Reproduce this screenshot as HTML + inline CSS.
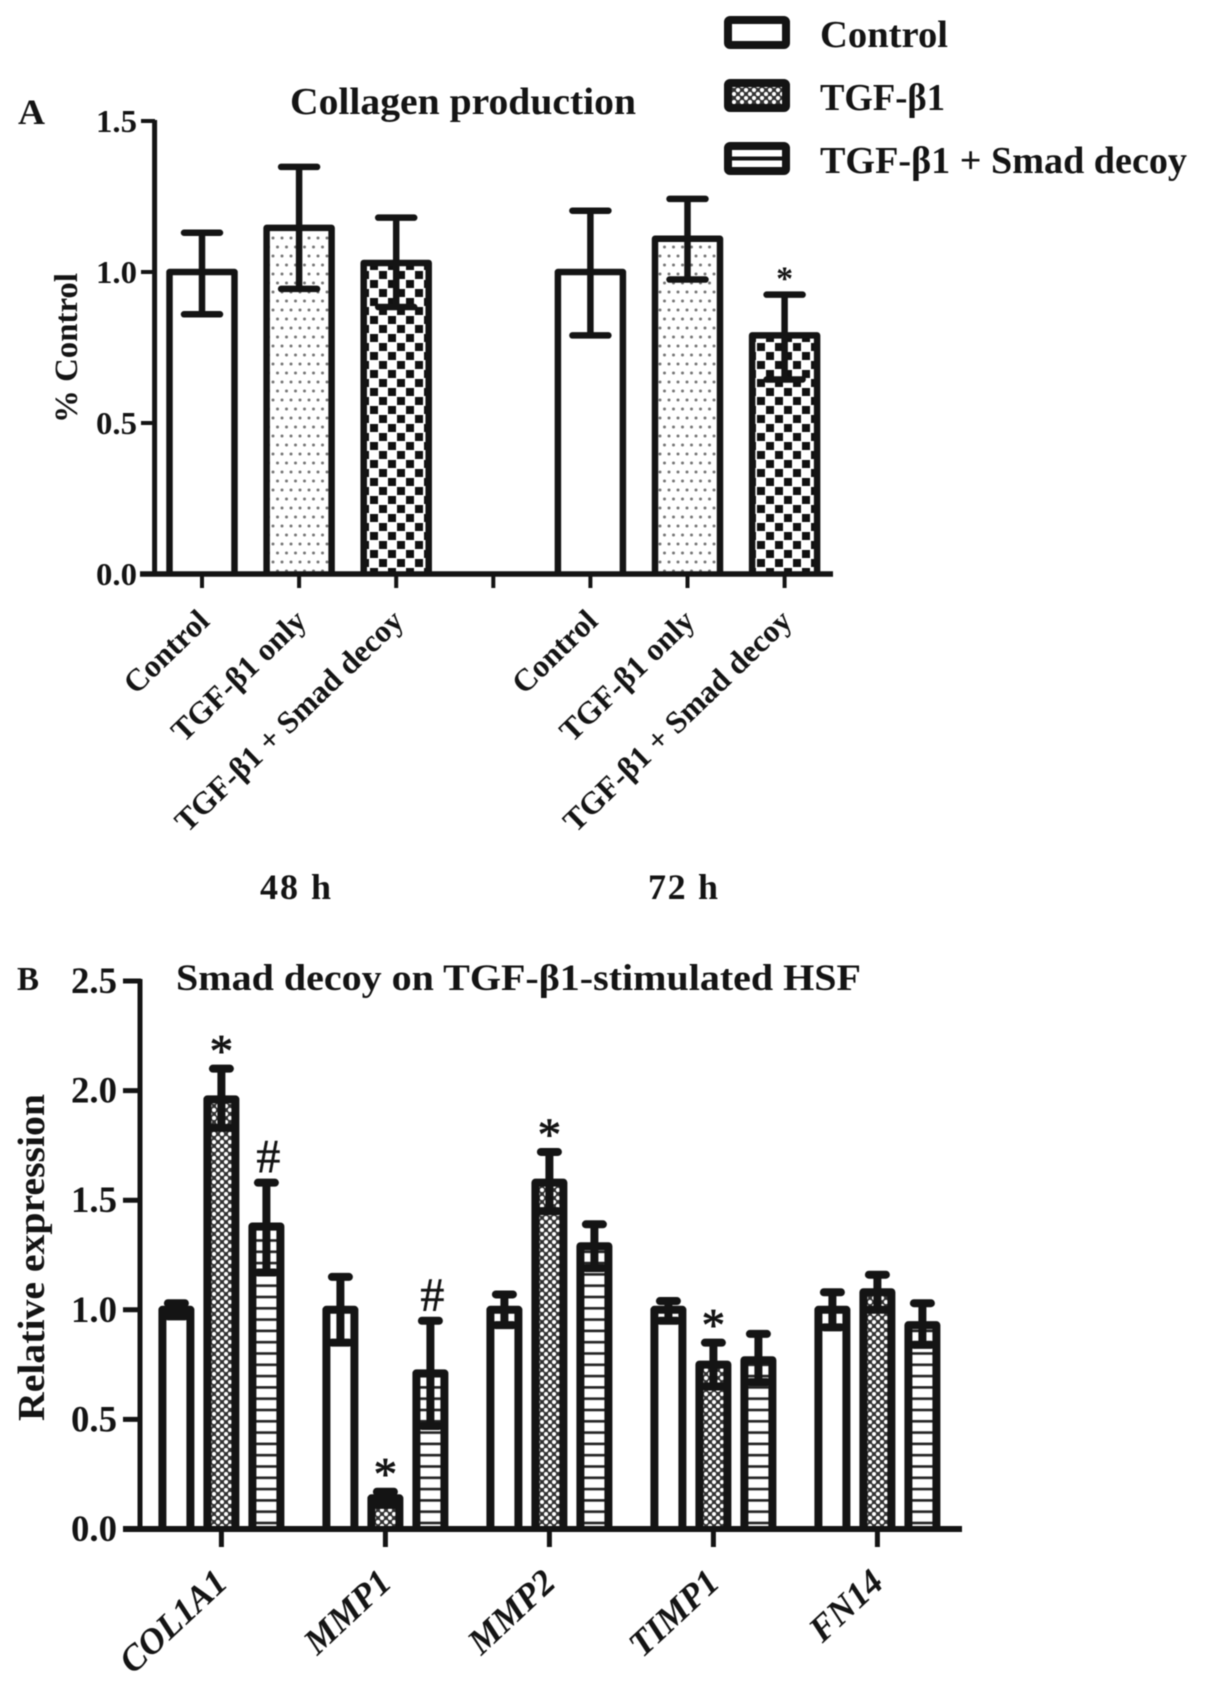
<!DOCTYPE html>
<html lang="en">
<head>
<meta charset="utf-8">
<title>Collagen production and Smad decoy expression</title>
<style>
html,body{margin:0;padding:0;background:#fff;width:1205px;height:1693px;overflow:hidden}
svg{display:block;filter:blur(0.55px)}
text{font-family:"Liberation Serif","Noto Serif CJK SC",serif;font-weight:bold;fill:#141414}
</style>
</head>
<body>
<svg id="fig" xmlns="http://www.w3.org/2000/svg" width="1205" height="1693" viewBox="0 0 1205 1693">
<defs>
<pattern id="dots" patternUnits="userSpaceOnUse" width="18" height="18">
<rect width="18" height="18" fill="#fff"/>
<circle cx="3" cy="4" r="1.5" fill="#777"/><circle cx="12" cy="4" r="1.5" fill="#777"/>
<circle cx="7.5" cy="13" r="1.5" fill="#777"/><circle cx="16.5" cy="13" r="1.5" fill="#777"/>
</pattern>
<pattern id="check" patternUnits="userSpaceOnUse" width="18" height="18">
<rect width="18" height="18" fill="#fff"/>
<rect x="1" y="1" width="8" height="8" fill="#111"/><rect x="10" y="10" width="8" height="8" fill="#111"/>
</pattern>
<pattern id="dense" patternUnits="userSpaceOnUse" width="8" height="8">
<rect width="8" height="8" fill="#333"/>
<circle cx="2" cy="2" r="2.1" fill="#fff"/><circle cx="6" cy="6" r="2.1" fill="#fff"/>
</pattern>
<pattern id="stripes" patternUnits="userSpaceOnUse" width="10" height="11.3" y="1529">
<rect width="10" height="11.3" fill="#fff"/>
<rect y="4" width="10" height="2.6" fill="#222"/>
</pattern>
</defs>

<g>
  <rect x="728" y="20" width="58" height="25" rx="2" fill="#fff" stroke="#141414" stroke-width="8"/>
  <text x="820" y="47" font-size="38" textLength="128" lengthAdjust="spacingAndGlyphs">Control</text>
  <rect x="728" y="83" width="58" height="25" rx="2" fill="url(#dense)" stroke="#141414" stroke-width="8"/>
  <text x="820" y="110" font-size="38" textLength="125" lengthAdjust="spacingAndGlyphs">TGF-β1</text>
  <rect x="728" y="146" width="58" height="25" rx="2" fill="#fff" stroke="#141414" stroke-width="8"/>
  <line x1="730" x2="784" y1="158.5" y2="158.5" stroke="#141414" stroke-width="4"/>
  <text x="820" y="173" font-size="38" textLength="367" lengthAdjust="spacingAndGlyphs">TGF-β1 + Smad decoy</text>
</g>

<text x="18" y="124" font-size="36" textLength="27" lengthAdjust="spacingAndGlyphs">A</text>
<text x="290" y="114" font-size="38" textLength="346" lengthAdjust="spacingAndGlyphs">Collagen production</text>
<text transform="translate(77,423) rotate(-90)" font-size="33" textLength="150" lengthAdjust="spacingAndGlyphs">% Control</text>
<text x="260" y="899" font-size="36" textLength="71" lengthAdjust="spacing">48 h</text>
<text x="648" y="899" font-size="36" textLength="70" lengthAdjust="spacing">72 h</text>

<text x="17" y="990" font-size="34" textLength="22" lengthAdjust="spacingAndGlyphs">B</text>
<text x="176" y="990" font-size="37" textLength="685" lengthAdjust="spacingAndGlyphs">Smad decoy on TGF-β1-stimulated HSF</text>
<text transform="translate(44,1421) rotate(-90)" font-size="38" textLength="327" lengthAdjust="spacingAndGlyphs">Relative expression</text>

<g id="chartA"></g>
<g id="chartB"></g>
</svg>

<script>
// Panel A data
const aCategories = ['Control', 'TGF-β1 only', 'TGF-β1 + Smad decoy', '', 'Control', 'TGF-β1 only', 'TGF-β1 + Smad decoy'];
const aValues = [1.0, 1.146, 1.03, null, 1.0, 1.11, 0.79];
const aErrHigh = [1.13, 1.348, 1.18, null, 1.203, 1.242, 0.925];
const aErrLow = [0.86, 0.944, 0.884, null, 0.79, 0.975, 0.644];
const aFills = ['none', 'dots', 'check', '', 'none', 'dots', 'check'];
const aStars = ['', '', '', '', '', '', '*'];
const aTicks = ['0.0', '0.5', '1.0', '1.5'];

// Panel B data
const bCategories = ['COL1A1', 'MMP1', 'MMP2', 'TIMP1', 'FN14'];
const bControl = [1.0, 1.0, 1.0, 1.0, 1.0];
const bControlHigh = [1.03, 1.15, 1.07, 1.04, 1.08];
const bControlLow = [0.97, 0.85, 0.93, 0.95, 0.92];
const bTgf = [1.96, 0.14, 1.58, 0.75, 1.08];
const bTgfHigh = [2.10, 0.17, 1.72, 0.85, 1.16];
const bTgfLow = [1.83, 0.11, 1.45, 0.65, 1.0];
const bDecoy = [1.38, 0.71, 1.29, 0.77, 0.93];
const bDecoyHigh = [1.58, 0.95, 1.39, 0.89, 1.03];
const bDecoyLow = [1.17, 0.47, 1.19, 0.67, 0.84];
const bTgfMarks = ['*', '*', '*', '*', ''];
const bDecoyMarks = ['#', '#', '', '', ''];
const bTicks = ['0.0', '0.5', '1.0', '1.5', '2.0', '2.5'];

const NS = 'http://www.w3.org/2000/svg';
const INK = '#141414';
function mk(tag, attrs, parent, txt) {
  const n = document.createElementNS(NS, tag);
  for (const k in attrs) n.setAttribute(k, attrs[k]);
  if (txt !== undefined) n.textContent = txt;
  parent.appendChild(n);
  return n;
}

// Axis functions
const yA = v => 574 - 302 * v;
const xA = i => 202 + 97.1 * i;
const yB = v => 1529 - 219.2 * v;
const xB = g => 221.4 + 164 * g;

function drawBar(parent, cx, halfW, yTop, yBase, fill, sw) {
  const d = 'M' + (cx - halfW) + ' ' + yBase + 'V' + yTop + 'H' + (cx + halfW) + 'V' + yBase;
  const bg = mk('path', {d: d + 'Z', fill: fill === 'none' ? '#fff' : 'url(#' + fill + ')'}, parent);
  
  
  const ol = mk('path', {d: d, fill: 'none', stroke: INK, 'stroke-width': sw, 'stroke-linejoin': 'round'}, parent);
  
  
}
function drawErr(parent, cx, yHi, yLo, capHalf, sw) {
  const stem = mk('line', {x1: cx, x2: cx, y1: yHi, y2: yLo, stroke: INK, 'stroke-width': sw}, parent);
  
  
  const top = mk('line', {x1: cx - capHalf, x2: cx + capHalf, y1: yHi, y2: yHi, stroke: INK, 'stroke-width': sw, 'stroke-linecap': 'round'}, parent);
  
  
  const bot = mk('line', {x1: cx - capHalf, x2: cx + capHalf, y1: yLo, y2: yLo, stroke: INK, 'stroke-width': sw, 'stroke-linecap': 'round'}, parent);
  
  
}

// Panel A
const gA = document.getElementById('chartA');
aCategories.forEach((c, i) => {
  if (aValues[i] === null) return;
  drawBar(gA, xA(i), 32.5, yA(aValues[i]), 574, aFills[i], 6.5);
  drawErr(gA, xA(i), yA(aErrHigh[i]), yA(aErrLow[i]), 18, 6.5);
  if (aStars[i]) {
    const s = mk('text', {x: xA(i), y: yA(aErrHigh[i]) - 5, 'font-size': 34, 'text-anchor': 'middle'}, gA, aStars[i]);
    
    
  }
});
const aYLine = mk('line', {x1: 154.6, x2: 154.6, y1: 120, y2: 576, stroke: INK, 'stroke-width': 5}, gA);


const aXLine = mk('line', {x1: 140, x2: 833, y1: 574, y2: 574, stroke: INK, 'stroke-width': 5.5}, gA);


aTicks.forEach(t => {
  const y = yA(parseFloat(t));
  const tk = mk('line', {x1: 141, x2: 155, y1: y, y2: y, stroke: INK, 'stroke-width': 4}, gA);
  
  
  const lb = mk('text', {x: 96, y: y + 11, 'font-size': 32, textLength: 41, lengthAdjust: 'spacingAndGlyphs'}, gA, t);
  
  
});
aCategories.forEach((c, i) => {
  const tk = mk('line', {x1: xA(i), x2: xA(i), y1: 574, y2: 588, stroke: INK, 'stroke-width': 4}, gA);
  
  
  if (c) {
    const lb = mk('text', {transform: 'translate(' + (xA(i) + 9) + ',623) rotate(-44)', 'font-size': 31.5, 'text-anchor': 'end'}, gA, c);
    
    
  }
});

// Panel B
const gB = document.getElementById('chartB');
const bSeries = [
  {v: bControl, hi: bControlHigh, lo: bControlLow, fill: 'none', off: -45},
  {v: bTgf, hi: bTgfHigh, lo: bTgfLow, fill: 'dense', off: 0},
  {v: bDecoy, hi: bDecoyHigh, lo: bDecoyLow, fill: 'stripes', off: 45}
];
bSeries.forEach(s => {
  bCategories.forEach((c, g) => {
    const cx = xB(g) + s.off;
    drawBar(gB, cx, 14, yB(s.v[g]), 1529, s.fill, 8);
    drawErr(gB, cx, yB(s.hi[g]), yB(s.lo[g]), 8.5, 8);
  });
});
bCategories.forEach((c, g) => {
  if (bTgfMarks[g]) {
    const m = mk('text', {x: xB(g), y: yB(bTgfHigh[g]) - 2, 'font-size': 47, 'text-anchor': 'middle', stroke: '#141414', 'stroke-width': 0.8, style: 'font-weight:normal'}, gB, bTgfMarks[g]);
    
    
  }
  if (bDecoyMarks[g]) {
    const m = mk('text', {x: xB(g) + 47, y: yB(bDecoyHigh[g]) - 10, 'font-size': 48, 'text-anchor': 'middle', stroke: '#141414', 'stroke-width': 0.5, style: 'font-weight:normal'}, gB, bDecoyMarks[g]);
    
    
  }
});
const bYLine = mk('line', {x1: 140, x2: 140, y1: 979, y2: 1531, stroke: INK, 'stroke-width': 5}, gB);


const bXLine = mk('line', {x1: 123, x2: 962, y1: 1529, y2: 1529, stroke: INK, 'stroke-width': 6}, gB);


bTicks.forEach(t => {
  const y = yB(parseFloat(t));
  const tk = mk('line', {x1: 123, x2: 141, y1: y, y2: y, stroke: INK, 'stroke-width': 5}, gB);
  
  
  const lb = mk('text', {x: 71, y: y + 12, 'font-size': 37, textLength: 46, lengthAdjust: 'spacingAndGlyphs'}, gB, t);
  
  
});
bCategories.forEach((c, g) => {
  const tk = mk('line', {x1: xB(g), x2: xB(g), y1: 1529, y2: 1547, stroke: INK, 'stroke-width': 5}, gB);
  
  
  const lb = mk('text', {transform: 'translate(' + (xB(g) + 8) + ',1585) rotate(-43)', 'font-size': 36, 'font-style': 'italic', 'text-anchor': 'end', style: 'font-style:italic'}, gB, c);
  
  
});
</script>
</body>
</html>
